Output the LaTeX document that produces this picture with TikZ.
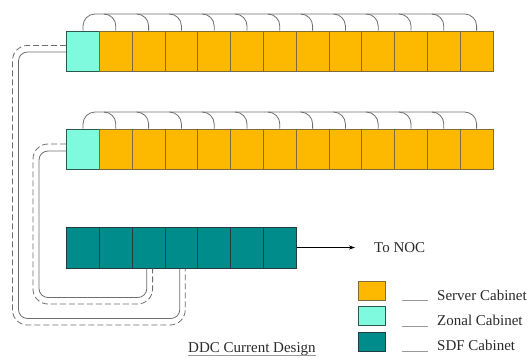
\documentclass[tikz,border=0pt]{standalone}
\usepackage{fontspec}
\setmainfont{Liberation Serif}
\usetikzlibrary{arrows.meta}
\definecolor{srvfill}{HTML}{FCB900}
\definecolor{srvdraw}{HTML}{7F6A3A}
\definecolor{zonfill}{HTML}{80FADE}
\definecolor{zondraw}{HTML}{2B5950}
\definecolor{sdffill}{HTML}{008C8A}
\definecolor{sdfdraw}{HTML}{1F3F3F}
\definecolor{wire}{HTML}{6E6E6E}
\definecolor{txt}{HTML}{2A2A2A}
\tikzset{
  cab/.style={minimum width=32.8pt, inner sep=0pt, line width=1pt},
  srv/.style={cab, fill=srvfill, draw=srvdraw, minimum height=40pt},
  zon/.style={cab, fill=zonfill, draw=zondraw, minimum height=40pt},
  sdf/.style={cab, fill=sdffill, draw=sdfdraw, minimum height=41pt},
  hop/.style={draw=wire, line width=0.8pt, rounded corners=12pt},
  dl/.style={draw=wire, line width=0.8pt, dash pattern=on 6pt off 3pt, rounded corners=15pt},
  sl/.style={draw=wire, line width=0.8pt, rounded corners=9pt},
  lbl/.style={inner sep=0pt, text=txt, font=\fontsize{15}{17}\selectfont},
  key/.style={inner sep=0pt, minimum width=27pt, minimum height=19pt, line width=1pt}
}
\begin{document}
\begin{tikzpicture}[x=1pt,y=-1pt]
\useasboundingbox (0,0) rectangle (532,360);
% row 1
\node[zon] (a0) at (83,51) {};
\foreach \i in {1,...,12} {
  \node[srv] (a\i) at ({66.6+32.8*(\i+0.5)},51) {};
}
% row 2
\node[zon] (b0) at (83,149) {};
\foreach \i in {1,...,12} {
  \node[srv] (b\i) at ({66.6+32.8*(\i+0.5)},149) {};
}
% buses
\draw[hop] (a0.north) -- (a0.north |- 0,14) -| (a12.north);
\draw[hop] (b0.north) -- (b0.north |- 0,112) -| (b12.north);
\foreach \i in {1,...,11} {
  \draw[hop] ([xshift=-12pt]a\i.north |- 0,14) -| (a\i.north);
  \draw[hop] ([xshift=-12pt]b\i.north |- 0,112) -| (b\i.north);
}
% SDF row
\foreach \i in {1,...,7} {
  \node[sdf] (d\i) at ({66.6+32.8*(\i-0.5)},247.5) {};
}
% uplinks
\draw[dl] ([yshift=5.5pt]a0.west) -| (12.5,325) -| ([xshift=3.8pt]d4.south);
\draw[sl] ([yshift=-1pt]a0.west) -| (18.5,318.5) -| ([xshift=-1.6pt]d4.south);
\draw[dl] ([yshift=5pt]b0.west) -| (33,304) -| ([xshift=4pt]d3.south);
\draw[sl] ([yshift=-2pt]b0.west) -| (39,297.5) -| ([xshift=-1.8pt]d3.south);
% to NOC
\coordinate (noc) at (355,247.5);
\draw[line width=0.6pt, -{Stealth[length=6pt,width=4pt]}] (d7.east) -- (noc);
\node[lbl, anchor=base west] (noct) at (374,252) {To NOC};
% legend
\node[key, fill=srvfill, draw=srvdraw] (k1) at (371.5,290.5) {};
\node[key, fill=zonfill, draw=zondraw] (k2) at (371.5,316) {};
\node[key, fill=sdffill, draw=sdfdraw] (k3) at (371.5,341.5) {};
\node[lbl, anchor=base west] (t1) at (437,300) {Server Cabinet};
\node[lbl, anchor=base west] (t2) at (437,325.5) {Zonal Cabinet};
\node[lbl, anchor=base west] (t3) at (437,350.5) {SDF Cabinet};
\coordinate (l1) at (402,300.5);
\coordinate (l2) at (402,326);
\coordinate (l3) at (402,351);
\draw[wire!70, line width=0.6pt] (l1) -- ++(26,0);
\draw[wire!70, line width=0.6pt] (l2) -- ++(26,0);
\draw[wire!70, line width=0.6pt] (l3) -- ++(26,0);
% title
\node[lbl, anchor=base west] (ddc) at (188,352) {DDC Current Design};
\draw[wire!70, line width=0.6pt] ([yshift=-3.5pt]ddc.base west) -- ([yshift=-3.5pt]ddc.base east);
\end{tikzpicture}
\end{document}
